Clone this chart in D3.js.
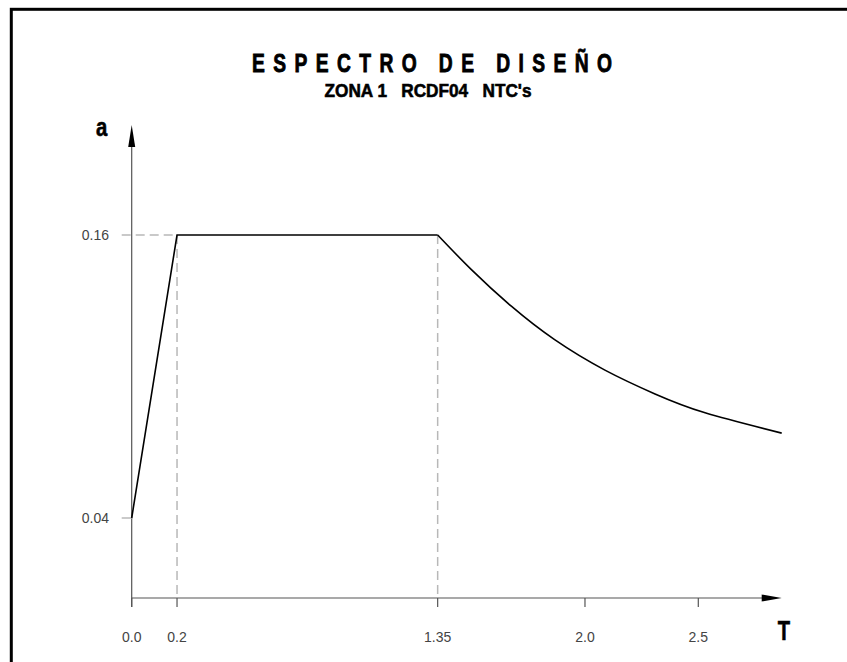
<!DOCTYPE html>
<html>
<head>
<meta charset="utf-8">
<script src="https://cdn.jsdelivr.net/npm/d3@7"></script>
<style>
  html, body { margin: 0; padding: 0; background: #fff; }
  svg { display: block; }
</style>
</head>
<body>
<div id="chart"></div>
<script>
// ---- data ----
const titleText = "ESPECTRO DE DISEÑO";
const subtitleText = "ZONA 1   RCDF04   NTC's";
const xLabel = "T";
const yLabel = "a";
const xTicks = [0.0, 0.2, 1.35, 2.0, 2.5];
const xTickLabels = ["0.0", "0.2", "1.35", "2.0", "2.5"];
const yTicks = [0.04, 0.16];
const yTickLabels = ["0.04", "0.16"];
// spectrum: rising branch + plateau
const rampT = [0.0, 0.2, 1.35];
const rampA = [0.04, 0.16, 0.16];
// descending branch
const decayT = [1.35, 1.50, 1.675, 1.866, 2.088, 2.309, 2.530, 2.868];
const decayA = [0.16, 0.1452, 0.1298, 0.1156, 0.1027, 0.0926, 0.0846, 0.0760];
const Ta = 0.2, Tb = 1.35, Cmax = 0.16;

// ---- layout ----
const W = 847, H = 662;
const x0 = 131.7, axisY = 598;
const x = d3.scaleLinear().domain([0, 2.5]).range([x0, 698.3]);
const y = d3.scaleLinear().domain([0.04, 0.16]).range([518, 235]);
const xEnd = 781.7, yTop = 125;

const svg = d3.select("#chart").append("svg").attr("width", W).attr("height", H);
svg.append("rect").attr("width", W).attr("height", H).attr("fill", "#fff");

// border (extends beyond viewport right / bottom)
svg.append("rect").attr("x", 11.3).attr("y", 9.3).attr("width", W + 20).attr("height", H + 20)
  .attr("fill", "none").attr("stroke", "#000").attr("stroke-width", 3);

const bold = "'Liberation Sans', Arial, Helvetica, sans-serif";
const plain = "'Liberation Sans', Arial, Helvetica, sans-serif";

function condensedText(txt, cx, baseY, size, targetW, sx, spacing, sw) {
  const t = svg.append("text").attr("x", 0).attr("y", 0)
    .attr("font-family", bold).attr("font-weight", "bold").attr("font-size", size)
    .attr("fill", "#000").attr("stroke", "#000").attr("stroke-width", sw)
    .style("white-space", "pre").attr("text-anchor", "middle").text(txt);
  if (spacing) {
    const nat = t.node().getComputedTextLength();
    const n = txt.length;
    const ls = (targetW / sx - nat) / (n - 1);
    t.attr("letter-spacing", ls).attr("x", ls / 2);
  } else if (targetW) {
    t.attr("textLength", targetW / sx).attr("lengthAdjust", "spacingAndGlyphs");
  }
  t.attr("transform", `translate(${cx},${baseY}) scale(${sx},1)`);
  return t;
}

condensedText(titleText, 432, 72, 26, 360, 0.74, true, 0.9);
condensedText(subtitleText, 428, 97, 19, 207, 0.76, false, 0.6);

// dashed guides
const dashC = "#b8b8b8";
const guides = svg.append("g").attr("stroke", dashC).attr("stroke-width", 1.5).attr("stroke-dasharray", "9,5").attr("fill", "none");
guides.append("line").attr("x1", x0 - 10).attr("x2", x(Ta)).attr("y1", y(Cmax)).attr("y2", y(Cmax));
guides.append("line").attr("x1", x(Ta)).attr("x2", x(Ta)).attr("y1", y(Cmax)).attr("y2", axisY);
guides.append("line").attr("x1", x(Tb)).attr("x2", x(Tb)).attr("y1", y(Cmax)).attr("y2", axisY);

// axes
const axC = "#555";
const ax = svg.append("g").attr("stroke", axC).attr("stroke-width", 1.2).attr("fill", "none");
ax.append("line").attr("x1", x0).attr("x2", xEnd - 18).attr("y1", axisY).attr("y2", axisY);
ax.append("line").attr("x1", x0).attr("x2", x0).attr("y1", axisY + 9).attr("y2", yTop + 18);
xTicks.forEach(t => {
  ax.append("line").attr("x1", x(t)).attr("x2", x(t)).attr("y1", axisY).attr("y2", axisY + 9);
});
// 0.04 tick
ax.append("line").attr("x1", x0 - 10).attr("x2", x0).attr("y1", y(0.04)).attr("y2", y(0.04))
  .attr("stroke", dashC).attr("stroke-width", 1.5);

// arrowheads
svg.append("path").attr("d", `M${xEnd},${axisY} L${xEnd - 20},${axisY - 3.5} L${xEnd - 20},${axisY + 3.5} Z`).attr("fill", "#000");
svg.append("path").attr("d", `M${x0},${yTop} L${x0 - 3.5},${yTop + 22} L${x0 + 3.5},${yTop + 22} Z`).attr("fill", "#000");

// tick labels
const tl = svg.append("g").attr("font-family", plain).attr("font-size", 14).attr("fill", "#444");
xTicks.forEach((t, i) => {
  tl.append("text").attr("x", x(t)).attr("y", 642).attr("text-anchor", "middle").text(xTickLabels[i]);
});
yTicks.forEach((v, i) => {
  tl.append("text").attr("x", 109).attr("y", y(v) + 5).attr("text-anchor", "end").text(yTickLabels[i]);
});

// axis labels
svg.append("text").attr("transform", "translate(784,640) scale(0.72,1)").attr("text-anchor", "middle")
  .attr("font-family", bold).attr("font-weight", "bold").attr("font-size", 28)
  .attr("stroke", "#000").attr("stroke-width", 0.6).text(xLabel);
svg.append("text").attr("transform", "translate(101.7,136) scale(0.78,1)").attr("text-anchor", "middle")
  .attr("font-family", bold).attr("font-weight", "bold").attr("font-size", 26)
  .attr("stroke", "#000").attr("stroke-width", 0.6).text(yLabel);

// spectrum curve
const ramp = rampT.map((t, i) => [t, rampA[i]]);
const decay = decayT.map((t, i) => [t, decayA[i]]);
const lineLin = d3.line().x(d => x(d[0])).y(d => y(d[1]));
const lineSmooth = d3.line().x(d => x(d[0])).y(d => y(d[1])).curve(d3.curveNatural);
svg.append("path").attr("d", lineLin(ramp)).attr("fill", "none").attr("stroke", "#000").attr("stroke-width", 1.6);
svg.append("path").attr("d", lineSmooth(decay)).attr("fill", "none").attr("stroke", "#000").attr("stroke-width", 1.6);
</script>
</body>
</html>
